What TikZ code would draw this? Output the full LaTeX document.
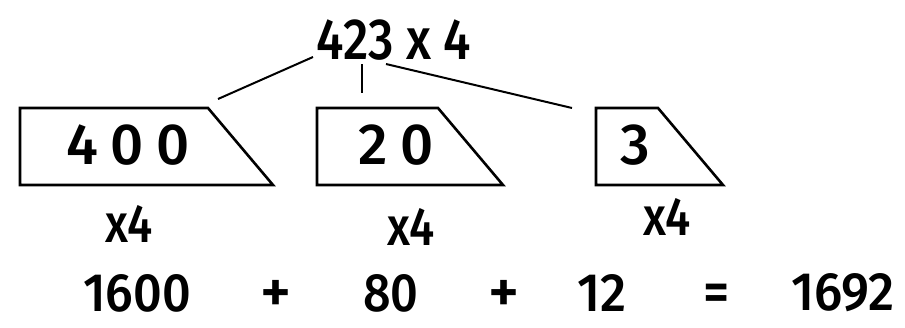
\documentclass[tikz,border=0pt]{standalone}
\usepackage{fontspec}
\setmainfont{Fira Sans Medium}
\begin{document}
\begin{tikzpicture}[x=1pt,y=-1pt,
  boxline/.style={line width=2.6pt, line join=miter},
  link/.style={line width=2pt},
  big/.style={font=\fontsize{58}{60}\selectfont, inner sep=0pt, anchor=center},
  mul/.style={font=\fontsize{54}{56}\selectfont, inner sep=0pt},
  res/.style={font=\fontsize{54}{56}\selectfont, inner sep=0pt},
  sign/.style={font=\fontsize{60}{62}\selectfont, inner sep=0pt},
]
\useasboundingbox (0,0) rectangle (905,327);
\node[big] (title) at (394,40) {\scalebox{0.86}[1]{423 x 4}};
% free ends of the connectors
\coordinate (l1a) at (313,57);
\coordinate (l1b) at (218,99);
\coordinate (l2a) at (362,64);
\coordinate (l2b) at (362,93);
\coordinate (l3a) at (386,64);
\coordinate (l3b) at (572,108);
\draw[link] (l1a) -- (l1b);
\draw[link] (l2a) -- (l2b);
\draw[link] (l3a) -- (l3b);
% boxes
\draw[boxline] (20,108) -- (208,108) -- (273,185) -- (20,185) -- cycle;
\draw[boxline] (317,108) -- (438,108) -- (503,185) -- (317,185) -- cycle;
\draw[boxline] (596,108) -- (658,108) -- (723,185) -- (596,185) -- cycle;
\node[big] (p1) at (128,145) {4\hspace{0.22em}0\hspace{0.22em}0};
\node[big] (p2) at (396,145) {2\hspace{0.22em}0};
\node[big] (p3) at (635,145) {3};
% multipliers
\node[mul] (m1) at (129,224) {\scalebox{0.85}[1]{x4}};
\node[mul] (m2) at (411,227) {\scalebox{0.85}[1]{x4}};
\node[mul] (m3) at (667,217) {\scalebox{0.85}[1]{x4}};
% results
\node[res] (r1) at (137,293) {\scalebox{0.93}[1]{1600}};
\node[sign] (s1) at (276,296) {+};
\node[res] (r2) at (391,293) {\scalebox{0.9}[1]{80}};
\node[sign] (s2) at (504,296) {+};
\node[res] (r3) at (602,293) {\scalebox{0.95}[1]{12}};
\node[res] (eq) at (717,298) {\scalebox{0.95}[1.05]{=}};
\node[res] (r4) at (843,293) {\scalebox{0.95}[1]{1692}};
\end{tikzpicture}
\end{document}
